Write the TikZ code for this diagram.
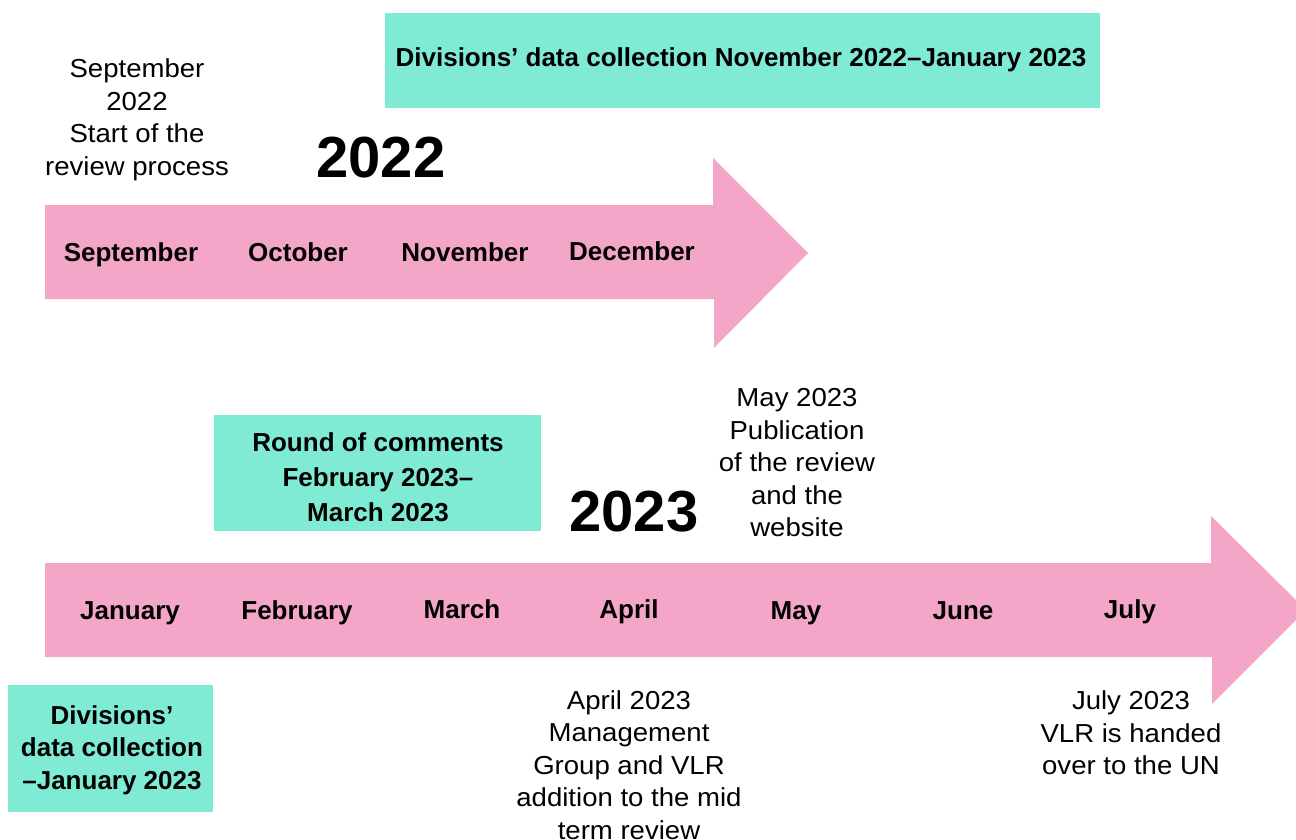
\documentclass[tikz,border=0pt]{standalone}
\usepackage{fontspec}
\setmainfont{Liberation Sans}
\newfontfamily\notefont[FakeStretch=1.06]{Liberation Sans}
\definecolor{tealbox}{HTML}{80EBD5}
\definecolor{pinkarrow}{HTML}{F4A6C8}
\tikzset{
  monthlbl/.style={font=\fontsize{26}{30}\selectfont\bfseries, inner sep=0pt},
  notetxt/.style={font=\notefont\fontsize{26}{32.5}\selectfont, align=center, inner sep=0pt},
  boxtxt/.style={font=\fontsize{26}{32.5}\selectfont\bfseries, align=center, inner sep=0pt},
  yearlbl/.style={font=\fontsize{58}{60}\selectfont\bfseries, inner sep=0pt},
  tealrect/.style={fill=tealbox, draw=none},
  pinkshape/.style={fill=pinkarrow, draw=none}
}
\begin{document}
\begin{tikzpicture}[x=1pt,y=-1pt]
\useasboundingbox (0,0) rectangle (1296,840);
\clip (0,0) rectangle (1296,840);
% arrows
\fill[pinkshape] (45,205) -- (713,205) -- (713,158) -- (808,253) -- (714,348) -- (714,299) -- (45,299) -- cycle;
\fill[pinkshape] (45,563) -- (1211,563) -- (1211,516) -- (1306,610) -- (1212,704) -- (1212,657) -- (45,657) -- cycle;
% teal boxes
\fill[tealrect] (385,13) rectangle (1100,108);
\fill[tealrect] (214,415) rectangle (541,531);
\fill[tealrect] (8,685) rectangle (213,812);
\node[boxtxt] (b1) at (741,60) {Divisions’ data collection November 2022–January 2023};
\node[boxtxt, font=\fontsize{26}{35}\selectfont\bfseries] (b2) at (378,477) {Round of comments\\February 2023–\\March 2023};
\node[boxtxt] (b3) at (112,750) {Divisions’\\data collection\\–January 2023};
% years
\node[yearlbl] (y22) at (381,158) {2022};
\node[yearlbl] (y23) at (634,512) {2023};
% months top
\node[monthlbl, anchor=base] (sep) at (131,261) {September};
\node[monthlbl, anchor=base] (oct) at (298,261) {October};
\node[monthlbl, anchor=base] (nov) at (465,261) {November};
\node[monthlbl, anchor=base] (dec) at (632,260) {December};
% months bottom
\node[monthlbl, anchor=base] (jan) at (130,619) {January};
\node[monthlbl, anchor=base] (feb) at (297,619) {February};
\node[monthlbl, anchor=base] (mar) at (462,618) {March};
\node[monthlbl, anchor=base] (apr) at (629,618) {April};
\node[monthlbl, anchor=base] (may) at (796,619) {May};
\node[monthlbl, anchor=base] (jun) at (963,619) {June};
\node[monthlbl, anchor=base] (jul) at (1130,618) {July};
% notes
\node[notetxt] (n1) at (137,120) {September\\2022\\Start of the\\review process};
\node[notetxt] (n2) at (797,463) {May 2023\\Publication\\of the review\\and the\\website};
\node[notetxt] (n3) at (629,765) {April 2023\\Management\\Group and VLR\\addition to the mid\\term review};
\node[notetxt] (n4) at (1131,733) {July 2023\\VLR is handed\\over to the UN};
\end{tikzpicture}
\end{document}
